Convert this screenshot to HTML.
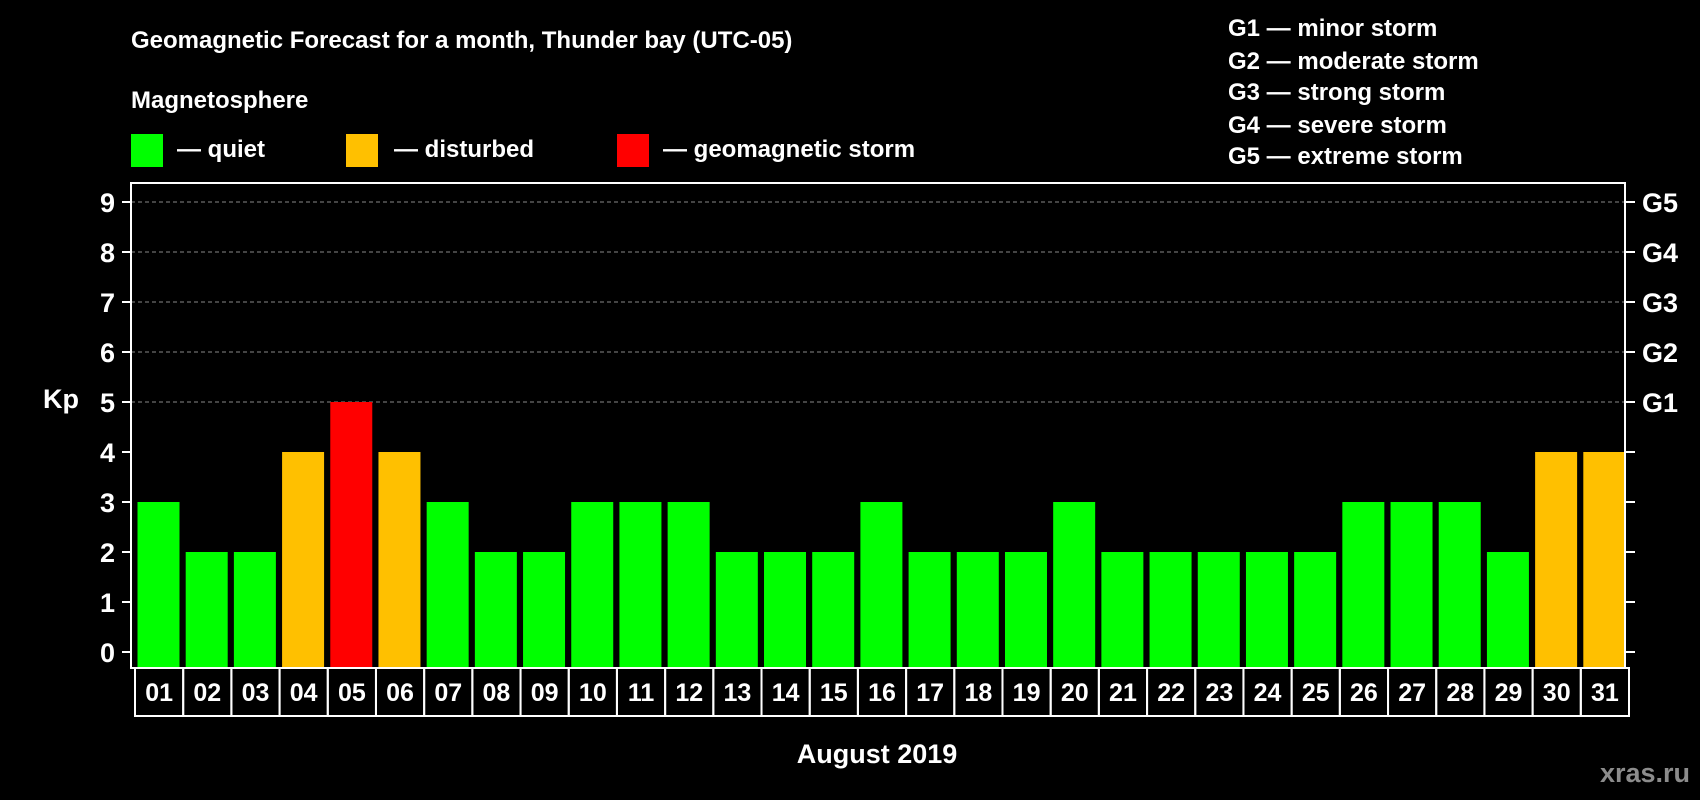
<!DOCTYPE html>
<html><head><meta charset="utf-8"><style>
html,body{margin:0;padding:0;background:#000;}
svg{display:block;font-family:"Liberation Sans",Arial,sans-serif;font-weight:bold;}
</style></head><body>
<svg id="chart" width="1700" height="800" viewBox="0 0 1700 800">
<rect width="1700" height="800" fill="#000"/>
<text x="131" y="48" fill="#fff" font-size="24">Geomagnetic Forecast for a month, Thunder bay (UTC-05)</text>
<text x="131" y="108" fill="#fff" font-size="24">Magnetosphere</text>
<g><rect x="131" y="134" width="32" height="33" fill="#00ff00"/><text x="177" y="157" fill="#fff" font-size="24">— quiet</text></g>
<g><rect x="346" y="134" width="32" height="33" fill="#ffc000"/><text x="394" y="157" fill="#fff" font-size="24">— disturbed</text></g>
<g><rect x="617" y="134" width="32" height="33" fill="#ff0000"/><text x="663" y="157" fill="#fff" font-size="24">— geomagnetic storm</text></g>
<g fill="#fff" font-size="24">
<text x="1228" y="36">G1 — minor storm</text>
<text x="1228" y="69">G2 — moderate storm</text>
<text x="1228" y="100">G3 — strong storm</text>
<text x="1228" y="133">G4 — severe storm</text>
<text x="1228" y="164">G5 — extreme storm</text>
</g>
<text x="43" y="408" fill="#fff" font-size="27">Kp</text>
<text x="877" y="763" fill="#fff" font-size="27" text-anchor="middle">August 2019</text>
<text x="1690" y="782" fill="#8c8c8c" font-size="27" text-anchor="end">xras.ru</text>
<g id="grid"></g><g id="bars"></g><g id="axes"></g>
</svg>
<script>
const days=["01","02","03","04","05","06","07","08","09","10","11","12","13","14","15","16","17","18","19","20","21","22","23","24","25","26","27","28","29","30","31"];
const kpValues=[3,2,2,4,5,4,3,2,2,3,3,3,2,2,2,3,2,2,2,3,2,2,2,2,2,3,3,3,2,4,4];
const yTicks=[0,1,2,3,4,5,6,7,8,9];
const gLabels=["G1","G2","G3","G4","G5"];
const NS="http://www.w3.org/2000/svg";
const L=131,R=1625,T=183,B=668;
const pitch=(R-L)/days.length;
function y(v){return 652-v*50;}
function xc(i){return L+pitch*i;}
function mk(tag,attrs,parent){const e=document.createElementNS(NS,tag);for(const k in attrs)e.setAttribute(k,attrs[k]);parent.appendChild(e);return e;}
const grid=document.getElementById('grid'),bars=document.getElementById('bars'),axes=document.getElementById('axes');
yTicks.forEach(v=>{
  if(v>=5){const gl=mk('line',{x1:L,x2:R,y1:y(v),y2:y(v),stroke:'#888','stroke-dasharray':'4,3','stroke-width':1},grid);
  
  }
  const t=mk('line',{x1:122,x2:L,y1:y(v),y2:y(v),stroke:'#fff','stroke-width':2},axes);
  
  
  const rt=mk('line',{x1:R,x2:R+10,y1:y(v),y2:y(v),stroke:'#fff','stroke-width':2},axes);
  
  
  const lb=mk('text',{x:115,y:y(v)+10,fill:'#fff','font-size':27,'text-anchor':'end'},axes);
  lb.textContent=v;
  
  
});
gLabels.forEach((g,i)=>{
  const t=mk('text',{x:1642,y:y(5+i)+10,fill:'#fff','font-size':27},axes);
  t.textContent=g;
  
  
});
kpValues.forEach((v,i)=>{
  const col=v>=5?'#ff0000':(v>=4?'#ffc000':'#00ff00');
  const b=mk('rect',{x:xc(i)+6.5,y:y(v),width:42,height:y(0)-y(v)+16,fill:col},bars);
  
  
  const c=mk('rect',{x:xc(i)+4,y:B,width:pitch,height:48,fill:'none',stroke:'#fff','stroke-width':2},axes);
  
  
  const t=mk('text',{x:xc(i)+4+pitch/2,y:B+33,fill:'#fff','font-size':25,'text-anchor':'middle'},axes);
  t.textContent=days[i];
  
  
});
const frame=mk('rect',{x:L,y:T,width:R-L,height:B-T,fill:'none',stroke:'#fff','stroke-width':2},axes);


</script>
</body></html>
